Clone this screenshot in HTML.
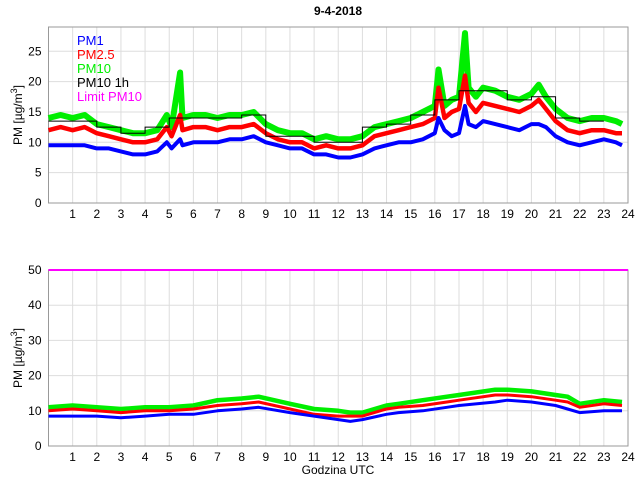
<!DOCTYPE html>
<html><head><meta charset="utf-8"><style>
body{margin:0;background:#fff;}
svg{font-family:"Liberation Sans",sans-serif;}
</style></head><body>
<svg id="c" width="640" height="480" xmlns="http://www.w3.org/2000/svg"></svg>
<script>
const times=[0,0.5,1,1.5,2,2.5,3,3.5,4,4.5,4.9,5.1,5.45,5.55,6,6.5,7,7.5,8,8.5,9,9.5,10,10.5,11,11.5,12,12.5,13,13.5,14,14.5,15,15.5,16,16.15,16.4,16.7,17,17.25,17.4,17.7,18,18.5,19,19.5,20,20.3,20.6,21,21.5,22,22.5,23,23.5,23.75];
const pm10=[14,14.5,14,14.5,13,12.5,12,11.5,11.5,12,14.5,12.5,21.5,14,14.5,14.5,14,14.5,14.5,15,13,12,11.5,11.5,10.5,11,10.5,10.5,11,12.5,13,13.5,14,15,16,22,16,17,17.5,28,19,17.5,19,18.5,17.5,17,18,19.5,17.5,15.5,14,13.5,14,14,13.5,13];
const pm25=[12,12.5,12,12.5,11.5,11,10.5,10,10,10.5,12.5,11,14.5,12,12.5,12.5,12,12.5,12.5,13,11.5,10.5,10,10,9,9.5,9,9,9.5,11,11.5,12,12.5,13,14,19,14,15,15.5,21,16.5,15,16.5,16,15.5,15,16,17,15.5,13.5,12,11.5,12,12,11.5,11.5];
const pm1=[9.5,9.5,9.5,9.5,9,9,8.5,8,8,8.5,10,9,10.5,9.5,10,10,10,10.5,10.5,11,10,9.5,9,9,8,8,7.5,7.5,8,9,9.5,10,10,10.5,11.5,14,12,11,11.5,16,13,12.5,13.5,13,12.5,12,13,13,12.5,11,10,9.5,10,10.5,10,9.5];
const hourly=[13.5,13.5,12.5,11.5,12.5,14,14,14,14.5,11,11,10,10,12.5,13,14.5,17,18.5,18.5,17,17.5,14,13.5];
const tB=[0,1,2,3,4,5,6,7,8,8.7,10,11,12,12.5,13,14,14.5,15.5,16.5,17,18.5,19,20,21,21.5,22,23,23.75];
const b10=[11,11.5,11,10.5,11,11,11.5,13,13.5,14,12,10.5,10,9.5,9.5,11.5,12,13,14,14.5,16,16,15.5,14.5,14,12,13,12.5];
const b25=[10,10.5,10,9.5,10,10,10.5,11.5,12,12.5,10.5,9,8.5,8.5,8.5,10.5,11,11.5,12.5,13,14.5,14.5,14,13,12.5,11,12,11.5];
const b1=[8.5,8.5,8.5,8,8.5,9,9,10,10.5,11,9.5,8.5,7.5,7,7.5,9,9.5,10,11,11.5,12.5,13,12.5,11.5,10.5,9.5,10,10];
const limit=50;
const xticks=[1,2,3,4,5,6,7,8,9,10,11,12,13,14,15,16,17,18,19,20,21,22,23,24];
const yTop=[0,5,10,15,20,25];
const yBot=[0,10,20,30,40,50];

const NS="http://www.w3.org/2000/svg";
const svg=document.getElementById('c');
function el(t,a,p){const e=document.createElementNS(NS,t);for(const k in a)e.setAttribute(k,a[k]);(p||svg).appendChild(e);return e;}
const X0=48.5,X1=628;
const xs=v=>X0+v/24*(X1-X0);
function panel(top,bot,ymax,yt,name){
  const ys=v=>bot-v/ymax*(bot-top);
  const g=el('g',{});
  
  
  xticks.forEach(t=>{
    el('line',{x1:xs(t),x2:xs(t),y1:top,y2:bot,stroke:'#ddd','stroke-width':1},g);
    const tx=el('text',{x:xs(t),y:bot+15,'font-size':12,'text-anchor':'middle'},g);tx.textContent=t;
    
    
  });
  yt.forEach(t=>{
    el('line',{x1:X0,x2:X1,y1:ys(t),y2:ys(t),stroke:'#ddd','stroke-width':1},g);
    const tx=el('text',{x:X0-7,y:ys(t)+4,'font-size':12,'text-anchor':'end'},g);tx.textContent=t;
    
    
  });
  el('rect',{x:X0,y:top,width:X1-X0,height:bot-top,fill:'none',stroke:'#999'},g);
  const yl=el('text',{transform:`translate(22,${(top+bot)/2}) rotate(-90)`,'font-size':12,'text-anchor':'middle'},g);
  yl.innerHTML='PM [µg/m<tspan dy="-5" font-size="9">3</tspan><tspan dy="5">]</tspan>';
  
  
  return ys;
}
function line(ts,vs,ys,color,w,name){
  const d=ts.map((t,i)=>(i?'L':'M')+xs(t).toFixed(1)+','+ys(vs[i]).toFixed(1)).join('');
  const p=el('path',{d,fill:'none',stroke:color,'stroke-width':w,'stroke-linejoin':'round'});
  
  
}
const ys1=panel(27,203,29,yTop,'top-panel');
line(times,pm10,ys1,'#00ee00',6,'pm10-line-top');
line(times,pm25,ys1,'#ff0000',4.5,'pm25-line-top');
line(times,pm1,ys1,'#0000ff',4,'pm1-line-top');
let d='';hourly.forEach((v,i)=>{d+=(i?'L':'M')+xs(i)+','+ys1(v)+'L'+xs(i+1)+','+ys1(v);});
const hl=el('path',{d,fill:'none',stroke:'#000','stroke-width':1});


const ys2=panel(270,446,50,yBot,'bottom-panel');
line(tB,b10,ys2,'#00ee00',4.5,'pm10-line-bottom');
line(tB,b25,ys2,'#ff0000',3,'pm25-line-bottom');
line(tB,b1,ys2,'#0000ff',3,'pm1-line-bottom');
const lm=el('line',{x1:X0,x2:X1,y1:ys2(limit),y2:ys2(limit),stroke:'#ff00ff','stroke-width':2});


const leg=[['PM1','#0000ff'],['PM2.5','#ff0000'],['PM10','#00ee00'],['PM10 1h','#000'],['Limit PM10','#ff00ff']];
leg.forEach((l,i)=>{
  const t=el('text',{x:77,y:45+i*14,'font-size':13,fill:l[1]});t.textContent=l[0];
  
  
});
const ti=el('text',{x:338,y:15,'font-size':12,'font-weight':'bold','text-anchor':'middle'});ti.textContent='9-4-2018';


const xl=el('text',{x:338,y:474,'font-size':12,'text-anchor':'middle'});xl.textContent='Godzina UTC';


</script>
</body></html>
